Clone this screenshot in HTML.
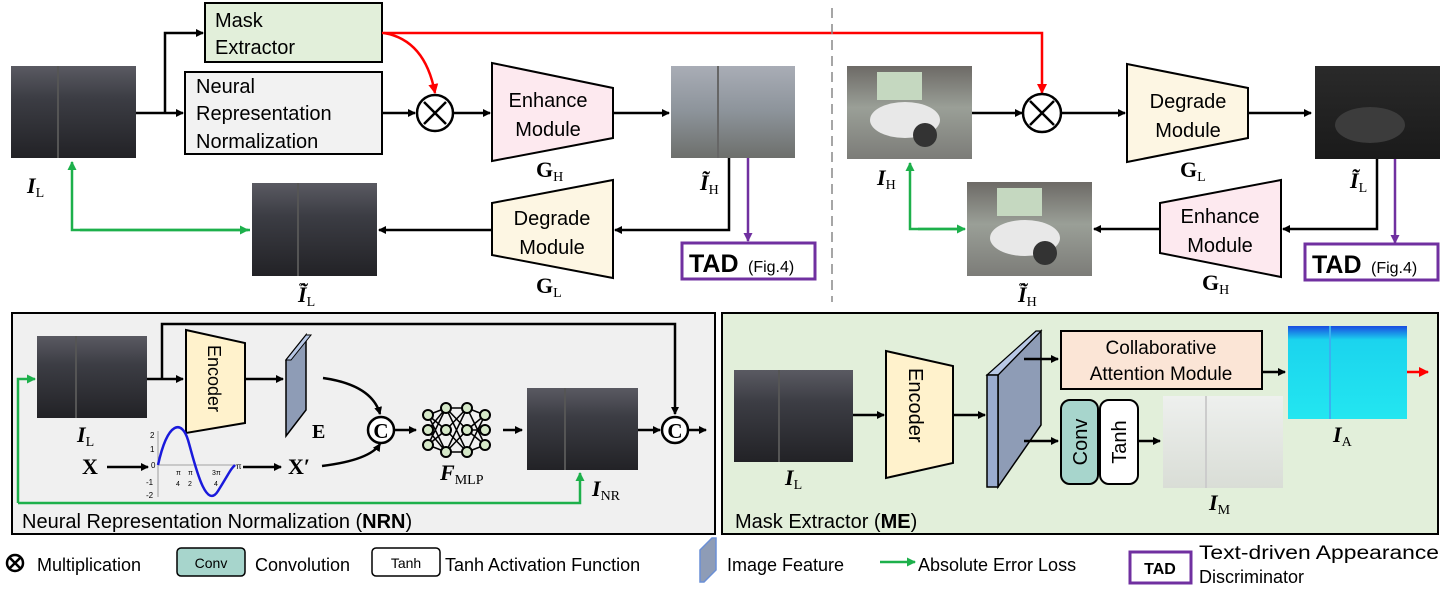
<!DOCTYPE html>
<html><head><meta charset="utf-8"><style>
html,body{margin:0;padding:0;background:#fff;}
svg{display:block;}
text{font-family:"Liberation Sans",sans-serif;}
.m{font-family:"Liberation Serif",serif;font-weight:bold;}
</style></head><body>
<svg width="1444" height="589" viewBox="0 0 1444 589" xmlns="http://www.w3.org/2000/svg">
<defs>
<marker id="ak" markerWidth="8" markerHeight="8" refX="7" refY="4" orient="auto" markerUnits="userSpaceOnUse"><path d="M0,0 L8,4 L0,8 z" fill="#000"/></marker>
<marker id="ar" markerWidth="10" markerHeight="10" refX="9" refY="5" orient="auto" markerUnits="userSpaceOnUse"><path d="M0,0 L10,5 L0,10 z" fill="#f00"/></marker>
<marker id="ag" markerWidth="9" markerHeight="9" refX="8" refY="4.5" orient="auto" markerUnits="userSpaceOnUse"><path d="M0,0 L9,4.5 L0,9 z" fill="#1db04b"/></marker>
<marker id="ap" markerWidth="9" markerHeight="9" refX="8" refY="4.5" orient="auto" markerUnits="userSpaceOnUse"><path d="M0,0 L9,4.5 L0,9 z" fill="#7030a0"/></marker>
<linearGradient id="dark" x1="0" y1="0" x2="0" y2="1"><stop offset="0" stop-color="#5a5a62"/><stop offset="0.35" stop-color="#3c3d44"/><stop offset="1" stop-color="#222226"/></linearGradient>
<linearGradient id="light" x1="0" y1="0" x2="0" y2="1"><stop offset="0" stop-color="#a9adb6"/><stop offset="0.5" stop-color="#8c939a"/><stop offset="1" stop-color="#6d6f6c"/></linearGradient>
<linearGradient id="moto" x1="0" y1="0" x2="0" y2="1"><stop offset="0" stop-color="#6d6a66"/><stop offset="0.45" stop-color="#9a9f97"/><stop offset="1" stop-color="#7c7c78"/></linearGradient>
<linearGradient id="motod" x1="0" y1="0" x2="0" y2="1"><stop offset="0" stop-color="#2a2a2a"/><stop offset="1" stop-color="#1a1a1a"/></linearGradient>
<linearGradient id="cyan" x1="0" y1="0" x2="0" y2="1"><stop offset="0" stop-color="#1a4be0"/><stop offset="0.15" stop-color="#1bd4ee"/><stop offset="1" stop-color="#23e6f0"/></linearGradient>
<linearGradient id="white" x1="0" y1="0" x2="0" y2="1"><stop offset="0" stop-color="#eef0ee"/><stop offset="1" stop-color="#d9ddd6"/></linearGradient>
</defs>

<rect x="205" y="3" width="177" height="59" fill="#e2efda" stroke="#000" stroke-width="2"/>
<text x="215" y="27" font-size="20">Mask</text>
<text x="215" y="54" font-size="20">Extractor</text>
<rect x="185" y="72" width="197" height="82" fill="#f2f2f2" stroke="#000" stroke-width="2"/>
<text x="196" y="93" font-size="20">Neural</text>
<text x="196" y="120" font-size="20">Representation</text>
<text x="196" y="148" font-size="20">Normalization</text>

<rect x="11" y="66" width="125" height="92" fill="url(#dark)"/>
<line x1="58" y1="66" x2="58" y2="158" stroke="#555" stroke-width="2"/>
<text x="27" y="193" font-size="22" class="m" font-style="italic">I<tspan font-size="14" font-style="normal" font-weight="normal" dy="4">L</tspan></text>

<path d="M136,113 L183,113" stroke="#000" stroke-width="2.5" fill="none" marker-end="url(#ak)"/>
<path d="M165,113 L165,33 L203,33" stroke="#000" stroke-width="2.5" fill="none" marker-end="url(#ak)"/>
<path d="M382,113 L415,113" stroke="#000" stroke-width="2.5" fill="none" marker-end="url(#ak)"/>
<circle cx="435" cy="113" r="18" fill="#fff" stroke="#000" stroke-width="2.5"/>
<path d="M424,102 L446,124 M446,102 L424,124" stroke="#000" stroke-width="2.5"/>
<path d="M453,113 L490,113" stroke="#000" stroke-width="2.5" fill="none" marker-end="url(#ak)"/>

<path d="M382,33 L1042,33 L1042,93" stroke="#f00" stroke-width="2.5" fill="none" marker-end="url(#ar)"/>
<path d="M384,33 Q425,40 435,93" stroke="#f00" stroke-width="2.5" fill="none" marker-end="url(#ar)"/>

<polygon points="492,63 613,88 613,138 492,161" fill="#fde9ef" stroke="#000" stroke-width="2"/>
<text x="548" y="107" font-size="20" text-anchor="middle">Enhance</text>
<text x="548" y="136" font-size="20" text-anchor="middle">Module</text>
<text x="536" y="177" font-size="22" class="m">G<tspan font-size="14" font-weight="normal" dy="4">H</tspan></text>

<path d="M613,113 L669,113" stroke="#000" stroke-width="2.5" fill="none" marker-end="url(#ak)"/>
<rect x="671" y="66" width="124" height="92" fill="url(#light)"/>
<line x1="718" y1="66" x2="718" y2="158" stroke="#666" stroke-width="2"/>
<text x="700" y="190" font-size="22" class="m" font-style="italic">Ĩ<tspan font-size="14" font-style="normal" font-weight="normal" dy="4">H</tspan></text>

<path d="M729,158 L729,230 L615,230" stroke="#000" stroke-width="2.5" fill="none" marker-end="url(#ak)"/>
<path d="M748,158 L748,241" stroke="#7030a0" stroke-width="2.5" fill="none" marker-end="url(#ap)"/>
<rect x="682" y="243" width="133" height="36" fill="#fff" stroke="#7030a0" stroke-width="3"/>
<text x="689" y="272" font-size="25" font-weight="bold">TAD</text>
<text x="748" y="272" font-size="16">(Fig.4)</text>

<polygon points="492,203 613,180 613,278 492,255" fill="#fdf6e3" stroke="#000" stroke-width="2"/>
<text x="552" y="225" font-size="20" text-anchor="middle">Degrade</text>
<text x="552" y="254" font-size="20" text-anchor="middle">Module</text>
<text x="536" y="293" font-size="22" class="m">G<tspan font-size="14" font-weight="normal" dy="4">L</tspan></text>

<path d="M492,230 L379,230" stroke="#000" stroke-width="2.5" fill="none" marker-end="url(#ak)"/>
<rect x="252" y="183" width="125" height="93" fill="url(#dark)"/>
<line x1="298" y1="183" x2="298" y2="276" stroke="#555" stroke-width="2"/>
<text x="298" y="302" font-size="22" class="m" font-style="italic">Ĩ<tspan font-size="14" font-style="normal" font-weight="normal" dy="4">L</tspan></text>
<text x="299" y="288" font-size="12" class="m">~</text>
<path d="M250,230 L72,230 L72,162" stroke="#1db04b" stroke-width="2.5" fill="none" marker-end="url(#ag)"/>
<path d="M80,230 L248,230" stroke="#1db04b" stroke-width="2.5" fill="none" marker-end="url(#ag)"/>

<line x1="832" y1="8" x2="832" y2="302" stroke="#888" stroke-width="1.5" stroke-dasharray="10,6"/>

<rect x="847" y="66" width="125" height="93" fill="url(#moto)"/>
<rect x="877" y="72" width="45" height="28" fill="#c5d8c0"/>
<ellipse cx="905" cy="120" rx="35" ry="18" fill="#e8e8e8"/>
<circle cx="925" cy="135" r="12" fill="#333"/>
<text x="877" y="185" font-size="22" class="m" font-style="italic">I<tspan font-size="14" font-style="normal" font-weight="normal" dy="4">H</tspan></text>
<path d="M972,113 L1022,113" stroke="#000" stroke-width="2.5" fill="none" marker-end="url(#ak)"/>
<circle cx="1042" cy="113" r="19" fill="#fff" stroke="#000" stroke-width="2.5"/>
<path d="M1030,101 L1054,125 M1054,101 L1030,125" stroke="#000" stroke-width="2.5"/>
<path d="M1061,113 L1125,113" stroke="#000" stroke-width="2.5" fill="none" marker-end="url(#ak)"/>
<polygon points="1127,64 1248,88 1248,138 1127,162" fill="#fdf6e3" stroke="#000" stroke-width="2"/>
<text x="1188" y="108" font-size="20" text-anchor="middle">Degrade</text>
<text x="1188" y="137" font-size="20" text-anchor="middle">Module</text>
<text x="1180" y="177" font-size="22" class="m">G<tspan font-size="14" font-weight="normal" dy="4">L</tspan></text>
<path d="M1248,113 L1311,113" stroke="#000" stroke-width="2.5" fill="none" marker-end="url(#ak)"/>
<rect x="1315" y="66" width="125" height="93" fill="url(#motod)"/>
<ellipse cx="1370" cy="125" rx="35" ry="18" fill="#3c3c3c"/>
<text x="1350" y="188" font-size="22" class="m" font-style="italic">Ĩ<tspan font-size="14" font-style="normal" font-weight="normal" dy="4">L</tspan></text>
<path d="M1377,159 L1377,229 L1283,229" stroke="#000" stroke-width="2.5" fill="none" marker-end="url(#ak)"/>
<path d="M1395,159 L1395,243" stroke="#7030a0" stroke-width="2.5" fill="none" marker-end="url(#ap)"/>
<rect x="1305" y="244" width="133" height="36" fill="#fff" stroke="#7030a0" stroke-width="3"/>
<text x="1312" y="273" font-size="25" font-weight="bold">TAD</text>
<text x="1371" y="273" font-size="16">(Fig.4)</text>
<polygon points="1160,203 1281,180 1281,277 1160,253" fill="#fde9ef" stroke="#000" stroke-width="2"/>
<text x="1220" y="223" font-size="20" text-anchor="middle">Enhance</text>
<text x="1220" y="252" font-size="20" text-anchor="middle">Module</text>
<text x="1202" y="290" font-size="22" class="m">G<tspan font-size="14" font-weight="normal" dy="4">H</tspan></text>
<path d="M1160,229 L1094,229" stroke="#000" stroke-width="2.5" fill="none" marker-end="url(#ak)"/>
<rect x="967" y="182" width="125" height="94" fill="url(#moto)"/>
<rect x="997" y="188" width="45" height="28" fill="#c5d8c0"/>
<ellipse cx="1025" cy="238" rx="35" ry="18" fill="#e8e8e8"/>
<circle cx="1045" cy="253" r="12" fill="#333"/>
<text x="1018" y="302" font-size="22" class="m" font-style="italic">Ĩ<tspan font-size="14" font-style="normal" font-weight="normal" dy="4">H</tspan></text>
<text x="1019" y="288" font-size="12" class="m">~</text>
<path d="M963,229 L910,229 L910,163" stroke="#1db04b" stroke-width="2.5" fill="none" marker-end="url(#ag)"/>
<path d="M918,229 L965,229" stroke="#1db04b" stroke-width="2.5" fill="none" marker-end="url(#ag)"/>

<rect x="12" y="313" width="703" height="221" fill="#f0f0f0" stroke="#000" stroke-width="2"/>
<rect x="37" y="336" width="110" height="82" fill="url(#dark)"/>
<line x1="76" y1="336" x2="76" y2="418" stroke="#555" stroke-width="2"/>
<text x="77" y="442" font-size="22" class="m" font-style="italic">I<tspan font-size="14" font-style="normal" font-weight="normal" dy="4">L</tspan></text>
<path d="M147,379 L183,379" stroke="#000" stroke-width="2.5" fill="none" marker-end="url(#ak)"/>
<path d="M162,379 L162,324 L675,324 L675,414" stroke="#000" stroke-width="2.5" fill="none" marker-end="url(#ak)"/>
<polygon points="186,330 245,343 245,423 186,433" fill="#fff2cc" stroke="#000" stroke-width="2"/>
<text transform="translate(208,345) rotate(90)" font-size="18">Encoder</text>
<path d="M245,379 L283,379" stroke="#000" stroke-width="2.5" fill="none" marker-end="url(#ak)"/>
<polygon points="286,360 306,335 306,410 286,436" fill="#8e9cb6" stroke="#000" stroke-width="1.5"/>
<polygon points="286,360 291,360 311,335 306,335" fill="#b8c8e6" stroke="#000" stroke-width="1"/>
<text x="312" y="438" font-size="20" class="m">E</text>
<path d="M323,378 Q372,385 380,414" stroke="#000" stroke-width="2.5" fill="none" marker-end="url(#ak)"/>
<text x="82" y="474" font-size="22" class="m">X</text>
<path d="M107,467 L148,467" stroke="#000" stroke-width="2.5" fill="none" marker-end="url(#ak)"/>
<line x1="158" y1="431" x2="158" y2="497" stroke="#888" stroke-width="0.8"/>
<line x1="158" y1="465" x2="238" y2="465" stroke="#888" stroke-width="0.8"/>
<path d="M158,465 C168,420 182,420 188,440 S 205,512 218,491 S 230,470 235,465" stroke="#1a1adc" stroke-width="2.5" fill="none"/>
<text x="150" y="438" font-size="8">2</text><text x="150" y="452" font-size="8">1</text><text x="151" y="468" font-size="8">0</text>
<text x="146" y="485" font-size="8">-1</text><text x="146" y="498" font-size="8">-2</text>
<text x="176" y="475" font-size="7">π</text><text x="188" y="475" font-size="7">π</text><text x="212" y="475" font-size="7">3π</text><text x="236" y="469" font-size="8">π</text>
<text x="176" y="486" font-size="7">4</text><text x="188" y="486" font-size="7">2</text><text x="214" y="486" font-size="7">4</text>
<path d="M243,467 L281,467" stroke="#000" stroke-width="2.5" fill="none" marker-end="url(#ak)"/>
<text x="288" y="474" font-size="22" class="m">X′</text>
<path d="M322,466 Q370,460 380,444" stroke="#000" stroke-width="2.5" fill="none" marker-end="url(#ak)"/>
<circle cx="381" cy="430" r="13" fill="#fff" stroke="#000" stroke-width="2.5"/>
<text x="381" y="438" font-size="21" class="m" text-anchor="middle">C</text>
<path d="M394,430 L416,430" stroke="#000" stroke-width="2.5" fill="none" marker-end="url(#ak)"/>
<g stroke="#000" stroke-width="1.5">
<path d="M428,415 L446,408 M428,415 L446,430 M428,415 L446,452 M428,430 L446,408 M428,430 L446,452 M428,445 L446,408 M428,445 L446,430 M428,445 L446,452 M428,415 L446,430"/>
<path d="M446,408 L467,408 M446,408 L467,430 M446,408 L467,452 M446,430 L467,408 M446,430 L467,452 M446,452 L467,408 M446,452 L467,430 M446,452 L467,452"/>
<path d="M467,408 L485,415 M467,408 L485,445 M467,430 L485,415 M467,430 L485,445 M467,452 L485,415 M467,452 L485,445 M467,430 L485,430"/>
</g>
<g fill="#d5e8c8" stroke="#000" stroke-width="2">
<circle cx="428" cy="415" r="5"/><circle cx="428" cy="430" r="5"/><circle cx="428" cy="445" r="5"/>
<circle cx="446" cy="408" r="5"/><circle cx="446" cy="430" r="5"/><circle cx="446" cy="452" r="5"/>
<circle cx="467" cy="408" r="5"/><circle cx="467" cy="430" r="5"/><circle cx="467" cy="452" r="5"/>
<circle cx="485" cy="415" r="5"/><circle cx="485" cy="430" r="5"/><circle cx="485" cy="445" r="5"/>
</g>
<text x="440" y="480" font-size="22" class="m" font-style="italic">F<tspan font-size="14" font-style="normal" font-weight="normal" dy="4">MLP</tspan></text>
<path d="M503,430 L522,430" stroke="#000" stroke-width="2.5" fill="none" marker-end="url(#ak)"/>
<rect x="527" y="388" width="111" height="82" fill="url(#dark)"/>
<line x1="565" y1="388" x2="565" y2="470" stroke="#555" stroke-width="2"/>
<text x="592" y="496" font-size="22" class="m" font-style="italic">I<tspan font-size="14" font-style="normal" font-weight="normal" dy="4">NR</tspan></text>
<path d="M638,430 L660,430" stroke="#000" stroke-width="2.5" fill="none" marker-end="url(#ak)"/>
<circle cx="675" cy="430" r="13" fill="#fff" stroke="#000" stroke-width="2.5"/>
<text x="675" y="438" font-size="21" class="m" text-anchor="middle">C</text>
<path d="M688,430 L706,430" stroke="#000" stroke-width="2.5" fill="none" marker-end="url(#ak)"/>
<path d="M18,503 L580,503 L580,473" stroke="#1db04b" stroke-width="2.5" fill="none" marker-end="url(#ag)"/>
<path d="M18,503 L18,379 L35,379" stroke="#1db04b" stroke-width="2.5" fill="none" marker-end="url(#ag)"/>
<text x="22" y="528" font-size="20">Neural Representation Normalization (<tspan font-weight="bold">NRN</tspan>)</text>

<rect x="722" y="313" width="716" height="221" fill="#e2efda" stroke="#000" stroke-width="2"/>
<rect x="734" y="370" width="119" height="92" fill="url(#dark)"/>
<line x1="779" y1="370" x2="779" y2="462" stroke="#555" stroke-width="2"/>
<text x="785" y="485" font-size="22" class="m" font-style="italic">I<tspan font-size="14" font-style="normal" font-weight="normal" dy="4">L</tspan></text>
<path d="M853,415 L884,415" stroke="#000" stroke-width="2.5" fill="none" marker-end="url(#ak)"/>
<polygon points="886,351 953,366 953,463 886,478" fill="#fff2cc" stroke="#000" stroke-width="2"/>
<text transform="translate(909,368) rotate(90)" font-size="20">Encoder</text>
<path d="M953,415 L985,415" stroke="#000" stroke-width="2.5" fill="none" marker-end="url(#ak)"/>
<polygon points="998,375 1041,331 1041,425 998,487" fill="#8e9cb6" stroke="#000" stroke-width="1.5"/>
<polygon points="987,375 1036,331 1041,331 998,375" fill="#b8c8e6" stroke="#000" stroke-width="1.2"/>
<rect x="987" y="375" width="11" height="112" fill="#9aacd0" stroke="#000" stroke-width="1.5"/>
<path d="M1024,359 L1058,359" stroke="#000" stroke-width="2.5" fill="none" marker-end="url(#ak)"/>
<path d="M1024,441 L1058,441" stroke="#000" stroke-width="2.5" fill="none" marker-end="url(#ak)"/>
<rect x="1061" y="331" width="201" height="58" fill="#fbe5d6" stroke="#000" stroke-width="2"/>
<text x="1161" y="354" font-size="19" text-anchor="middle">Collaborative</text>
<text x="1161" y="380" font-size="19" text-anchor="middle">Attention Module</text>
<path d="M1262,372 L1285,372" stroke="#000" stroke-width="2.5" fill="none" marker-end="url(#ak)"/>
<rect x="1288" y="326" width="119" height="93" fill="url(#cyan)"/>
<line x1="1330" y1="326" x2="1330" y2="419" stroke="#3ab0f0" stroke-width="2"/>
<path d="M1407,372 L1428,372" stroke="#f00" stroke-width="2.5" fill="none" marker-end="url(#ar)"/>
<text x="1333" y="442" font-size="22" class="m" font-style="italic">I<tspan font-size="14" font-style="normal" font-weight="normal" dy="4">A</tspan></text>
<rect x="1061" y="400" width="37" height="84" rx="9" fill="#a7d5cc" stroke="#000" stroke-width="2"/>
<text transform="translate(1087,442) rotate(-90)" font-size="20" text-anchor="middle">Conv</text>
<rect x="1100" y="400" width="38" height="84" rx="9" fill="#fff" stroke="#000" stroke-width="2"/>
<text transform="translate(1126,442) rotate(-90)" font-size="20" text-anchor="middle">Tanh</text>
<path d="M1138,441 L1160,441" stroke="#000" stroke-width="2.5" fill="none" marker-end="url(#ak)"/>
<rect x="1163" y="396" width="120" height="92" fill="url(#white)"/>
<line x1="1206" y1="396" x2="1206" y2="488" stroke="#ccc" stroke-width="2"/>
<text x="1209" y="510" font-size="22" class="m" font-style="italic">I<tspan font-size="14" font-style="normal" font-weight="normal" dy="4">M</tspan></text>
<text x="735" y="528" font-size="20">Mask Extractor (<tspan font-weight="bold">ME</tspan>)</text>

<circle cx="15" cy="563" r="8" fill="#fff" stroke="#000" stroke-width="2.5"/>
<path d="M10,558 L20,568 M20,558 L10,568" stroke="#000" stroke-width="2.5"/>
<text x="37" y="571" font-size="18">Multiplication</text>
<rect x="177" y="548" width="68" height="28" rx="4" fill="#a7d5cc" stroke="#000" stroke-width="1.5"/>
<text x="211" y="568" font-size="14" text-anchor="middle">Conv</text>
<text x="255" y="571" font-size="18">Convolution</text>
<rect x="372" y="548" width="68" height="28" rx="4" fill="#fff" stroke="#000" stroke-width="1.5"/>
<text x="406" y="568" font-size="14" text-anchor="middle">Tanh</text>
<text x="445" y="571" font-size="18">Tanh Activation Function</text>
<polygon points="700,550 712,538 716,538 716,570 704,582 700,582" fill="#8e9cb6" stroke="#6a8fd6" stroke-width="1.5"/>
<text x="727" y="571" font-size="18">Image Feature</text>
<path d="M880,562 L915,562" stroke="#1db04b" stroke-width="2.5" fill="none" marker-end="url(#ag)"/>
<text x="918" y="571" font-size="18">Absolute Error Loss</text>
<rect x="1130" y="552" width="61" height="31" fill="#fff" stroke="#7030a0" stroke-width="3"/>
<text x="1160" y="574" font-size="16" font-weight="bold" text-anchor="middle">TAD</text>
<text x="1199" y="559" font-size="19" textLength="240" lengthAdjust="spacingAndGlyphs">Text-driven  Appearance</text>
<text x="1199" y="583" font-size="18">Discriminator</text>
</svg>
</body></html>
